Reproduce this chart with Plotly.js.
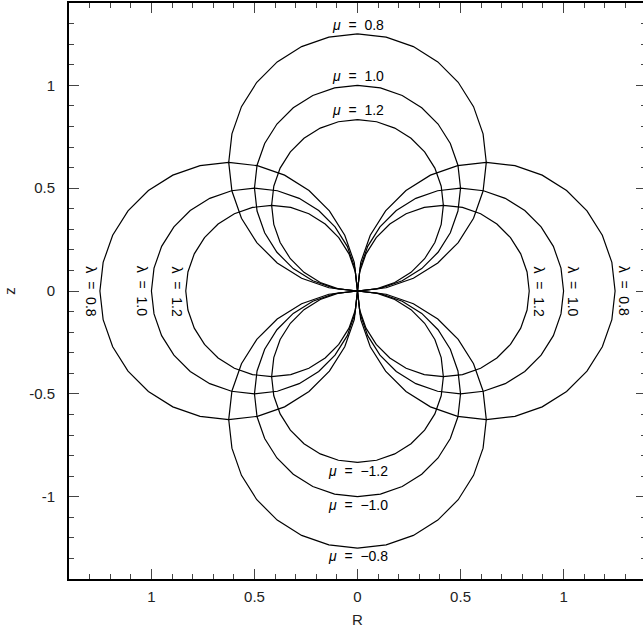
<!DOCTYPE html>
<html>
<head>
<meta charset="utf-8">
<script src="https://cdn.plot.ly/plotly-3.0.1.min.js"></script>
<style>
html,body{margin:0;padding:0;overflow:hidden;background:#fff;}
#chart{width:646px;height:632px;}
</style>
</head>
<body>
<div id="chart"></div>
<script>
// ---- data ----
var muValues = [0.8, 1.0, 1.2, -0.8, -1.0, -1.2];
var muLabels = ["0.8", "1.0", "1.2", "\u22120.8", "\u22121.0", "\u22121.2"];
var lambdaValues = [0.8, 1.0, 1.2];
var lambdaLabels = ["0.8", "1.0", "1.2"];
var lambdaSides = [-1, 1];            // left (R drawn mirrored) and right
var xTickVals = [-1, -0.5, 0, 0.5, 1];
var xTickText = ["1", "0.5", "0", "0.5", "1"];
var yTickVals = [-1, -0.5, 0, 0.5, 1];
var yTickText = ["-1", "-0.5", "0", "0.5", "1"];
var nSeg = 28;   // polygon facets of each drawn curve

// ---- build curves: coordinate surfaces are circles through the origin ----
function circle(cx, cy, r, startAng) {
  var xs = [], ys = [];
  for (var i = 0; i <= nSeg; i++) {
    var a = startAng + 2 * Math.PI * i / nSeg;
    xs.push(cx + r * Math.cos(a));
    ys.push(cy + r * Math.sin(a));
  }
  return {x: xs, y: ys};
}
var traces = [];
var annotations = [];
var lineStyle = {color: "#000", width: 1.2};
var FONT = "Liberation Sans, Arial, Helvetica, sans-serif";
var labFont = {family: FONT, size: 14, color: "#000"};

muValues.forEach(function (m, k) {
  var r = 1 / (2 * Math.abs(m));
  var cy = 1 / (2 * m);
  var c = circle(0, cy, r, m > 0 ? Math.PI / 2 : -Math.PI / 2);
  traces.push({type: "scatter", mode: "lines", x: c.x, y: c.y, line: lineStyle, hoverinfo: "skip", showlegend: false});
  var edge = 2 * cy;
  annotations.push({
    x: 0, y: edge + (m > 0 ? 0.045 : -0.04), xref: "x", yref: "y",
    text: "<i>\u03bc</i>\u00a0 = \u00a0" + muLabels[k], showarrow: false, font: labFont,
    xanchor: "center", yanchor: "middle"
  });
});
lambdaSides.forEach(function (s) {
  lambdaValues.forEach(function (l, k) {
    var r = 1 / (2 * l);
    var c = circle(s * r, 0, r, s > 0 ? 0 : Math.PI);
    traces.push({type: "scatter", mode: "lines", x: c.x, y: c.y, line: lineStyle, hoverinfo: "skip", showlegend: false});
    annotations.push({
      x: s * (2 * r + 0.045), y: 0, xref: "x", yref: "y",
      text: "\u03bb\u00a0 = \u00a0" + lambdaLabels[k], showarrow: false, font: labFont,
      textangle: 90, xanchor: "center", yanchor: "middle"
    });
  });
});

var axisCommon = {
  showgrid: false, zeroline: false, showline: true, linecolor: "#000", linewidth: 2,
  mirror: "allticks", ticks: "inside", ticklen: 10, tickwidth: 1, tickcolor: "#444",
  tickfont: {family: FONT, size: 15, color: "#222"},
  minor: {dtick: 0.1, ticks: "inside", ticklen: 5, tickwidth: 1, tickcolor: "#444"}
};
var layout = {
  width: 646, height: 632,
  margin: {l: 69, r: 0, t: 2.6, b: 53},
  paper_bgcolor: "#fff", plot_bgcolor: "#fff",
  showlegend: false,
  xaxis: Object.assign({}, axisCommon, {
    range: [-1.4, 1.4], tickmode: "array", tickvals: xTickVals, ticktext: xTickText,
    ticklabelstandoff: 3,
    title: {text: "R", font: {family: FONT, size: 15, color: "#222"}, standoff: 10}
  }),
  yaxis: Object.assign({}, axisCommon, {
    range: [-1.4, 1.4], tickmode: "array", tickvals: yTickVals, ticktext: yTickText,
    ticklabelstandoff: 9,
    title: {text: "z", font: {family: FONT, size: 15, color: "#222"}, standoff: 10}
  }),
  annotations: annotations
};
Plotly.newPlot("chart", traces, layout, {staticPlot: true, displayModeBar: false});
</script>
</body>
</html>
